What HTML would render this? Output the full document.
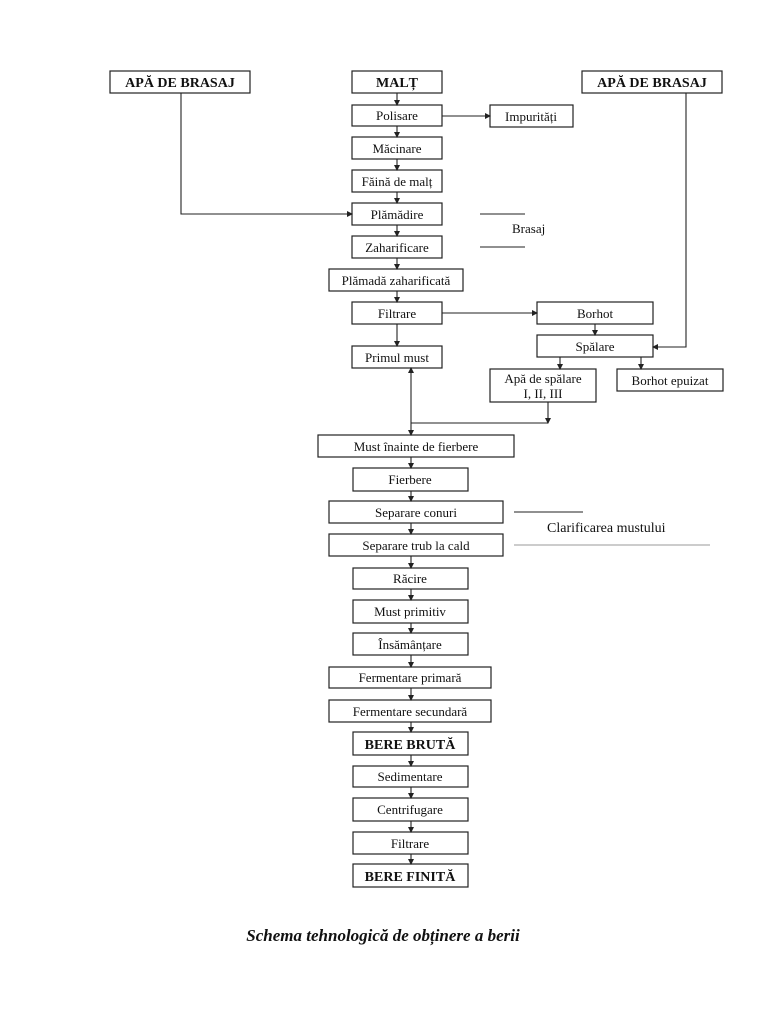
<!DOCTYPE html>
<html><head><meta charset="utf-8"><style>
html,body{margin:0;padding:0;background:#fff;}
svg{display:block}
text{font-family:"Liberation Serif",serif;font-size:13px;fill:#111;}
.b{font-weight:bold;font-size:14px}
rect{fill:#fff;stroke:#222;stroke-width:1.2}
line,polyline{stroke:#222;stroke-width:1.1;fill:none}
</style></head><body>
<svg width="768" height="1024" viewBox="0 0 768 1024" xmlns="http://www.w3.org/2000/svg">
<defs><marker id="a" markerWidth="6" markerHeight="6" refX="5" refY="3" orient="auto" markerUnits="userSpaceOnUse"><path d="M0,0 L6,3 L0,6 z" fill="#222"/></marker></defs>
<g>
<rect x="110" y="71" width="140" height="22"/><text class="b" x="180" y="87" text-anchor="middle">APĂ DE BRASAJ</text>
<rect x="352" y="71" width="90" height="22"/><text class="b" x="397" y="87" text-anchor="middle">MALȚ</text>
<rect x="582" y="71" width="140" height="22"/><text class="b" x="652" y="87" text-anchor="middle">APĂ DE BRASAJ</text>
<rect x="352" y="105" width="90" height="21"/><text x="397" y="120" text-anchor="middle">Polisare</text>
<rect x="490" y="105" width="83" height="22"/><text x="531" y="121" text-anchor="middle">Impurități</text>
<rect x="352" y="137" width="90" height="22"/><text x="397" y="153" text-anchor="middle">Măcinare</text>
<rect x="352" y="170" width="90" height="22"/><text x="397" y="186" text-anchor="middle">Făină de malț</text>
<rect x="352" y="203" width="90" height="22"/><text x="397" y="219" text-anchor="middle">Plămădire</text>
<rect x="352" y="236" width="90" height="22"/><text x="397" y="252" text-anchor="middle">Zaharificare</text>
<rect x="329" y="269" width="134" height="22"/><text x="396" y="285" text-anchor="middle">Plămadă zaharificată</text>
<rect x="352" y="302" width="90" height="22"/><text x="397" y="318" text-anchor="middle">Filtrare</text>
<rect x="537" y="302" width="116" height="22"/><text x="595" y="318" text-anchor="middle">Borhot</text>
<rect x="537" y="335" width="116" height="22"/><text x="595" y="351" text-anchor="middle">Spălare</text>
<rect x="352" y="346" width="90" height="22"/><text x="397" y="362" text-anchor="middle">Primul must</text>
<rect x="490" y="369" width="106" height="33"/><text x="543" y="383" text-anchor="middle">Apă de spălare</text><text x="543" y="398" text-anchor="middle">I, II, III</text>
<rect x="617" y="369" width="106" height="22"/><text x="670" y="385" text-anchor="middle">Borhot epuizat</text>

<rect x="318" y="435" width="196" height="22"/><text x="416" y="451" text-anchor="middle">Must înainte de fierbere</text>
<rect x="353" y="468" width="115" height="23"/><text x="410" y="484" text-anchor="middle">Fierbere</text>
<rect x="329" y="501" width="174" height="22"/><text x="416" y="517" text-anchor="middle">Separare conuri</text>
<rect x="329" y="534" width="174" height="22"/><text x="416" y="550" text-anchor="middle">Separare trub la cald</text>
<rect x="353" y="568" width="115" height="21"/><text x="410" y="583" text-anchor="middle">Răcire</text>
<rect x="353" y="600" width="115" height="23"/><text x="410" y="616" text-anchor="middle">Must primitiv</text>
<rect x="353" y="633" width="115" height="22"/><text x="410" y="649" text-anchor="middle">Însămânțare</text>
<rect x="329" y="667" width="162" height="21"/><text x="410" y="682" text-anchor="middle">Fermentare primară</text>
<rect x="329" y="700" width="162" height="22"/><text x="410" y="716" text-anchor="middle">Fermentare secundară</text>
<rect x="353" y="732" width="115" height="23"/><text class="b" x="410" y="749" text-anchor="middle">BERE BRUTĂ</text>
<rect x="353" y="766" width="115" height="21"/><text x="410" y="781" text-anchor="middle">Sedimentare</text>
<rect x="353" y="798" width="115" height="23"/><text x="410" y="814" text-anchor="middle">Centrifugare</text>
<rect x="353" y="832" width="115" height="22"/><text x="410" y="848" text-anchor="middle">Filtrare</text>
<rect x="353" y="864" width="115" height="23"/><text class="b" x="410" y="881" text-anchor="middle">BERE FINITĂ</text>
</g>
<g>
<line x1="397" y1="93" x2="397" y2="105" marker-end="url(#a)"/>
<line x1="397" y1="126" x2="397" y2="137" marker-end="url(#a)"/>
<line x1="397" y1="159" x2="397" y2="170" marker-end="url(#a)"/>
<line x1="397" y1="192" x2="397" y2="203" marker-end="url(#a)"/>
<line x1="397" y1="225" x2="397" y2="236" marker-end="url(#a)"/>
<line x1="397" y1="258" x2="397" y2="269" marker-end="url(#a)"/>
<line x1="397" y1="291" x2="397" y2="302" marker-end="url(#a)"/>
<line x1="397" y1="324" x2="397" y2="346" marker-end="url(#a)"/>
<line x1="442" y1="116" x2="490" y2="116" marker-end="url(#a)"/>
<line x1="442" y1="313" x2="537" y2="313" marker-end="url(#a)"/>
<line x1="595" y1="324" x2="595" y2="335" marker-end="url(#a)"/>
<line x1="560" y1="357" x2="560" y2="369" marker-end="url(#a)"/>
<line x1="641" y1="357" x2="641" y2="369" marker-end="url(#a)"/>
<polyline points="181,93 181,214 352,214" marker-end="url(#a)"/>
<polyline points="686,93 686,347 653,347" marker-end="url(#a)"/>
<polyline points="548,402 548,423"  marker-end="url(#a)"/>
<line x1="411" y1="423" x2="548" y2="423"/>
<line x1="411" y1="423" x2="411" y2="368" marker-end="url(#a)"/>
<line x1="411" y1="423" x2="411" y2="435" marker-end="url(#a)"/>
<line x1="411" y1="457" x2="411" y2="468" marker-end="url(#a)"/>
<line x1="411" y1="491" x2="411" y2="501" marker-end="url(#a)"/>
<line x1="411" y1="523" x2="411" y2="534" marker-end="url(#a)"/>
<line x1="411" y1="556" x2="411" y2="568" marker-end="url(#a)"/>
<line x1="411" y1="589" x2="411" y2="600" marker-end="url(#a)"/>
<line x1="411" y1="623" x2="411" y2="633" marker-end="url(#a)"/>
<line x1="411" y1="655" x2="411" y2="667" marker-end="url(#a)"/>
<line x1="411" y1="688" x2="411" y2="700" marker-end="url(#a)"/>
<line x1="411" y1="722" x2="411" y2="732" marker-end="url(#a)"/>
<line x1="411" y1="755" x2="411" y2="766" marker-end="url(#a)"/>
<line x1="411" y1="787" x2="411" y2="798" marker-end="url(#a)"/>
<line x1="411" y1="821" x2="411" y2="832" marker-end="url(#a)"/>
<line x1="411" y1="854" x2="411" y2="864" marker-end="url(#a)"/>
<line x1="480" y1="214" x2="525" y2="214"/>
<line x1="480" y1="247" x2="525" y2="247"/>
<line x1="514" y1="512" x2="583" y2="512"/>
<line x1="514" y1="545" x2="710" y2="545" style="stroke:#999"/>
</g>
<text x="512" y="233">Brasaj</text>
<text x="547" y="532" style="font-size:14px">Clarificarea mustului</text>
<text x="383" y="941" text-anchor="middle" style="font-size:17px;font-weight:bold;font-style:italic">Schema tehnologică de obținere a berii</text>
</svg>
</body></html>
